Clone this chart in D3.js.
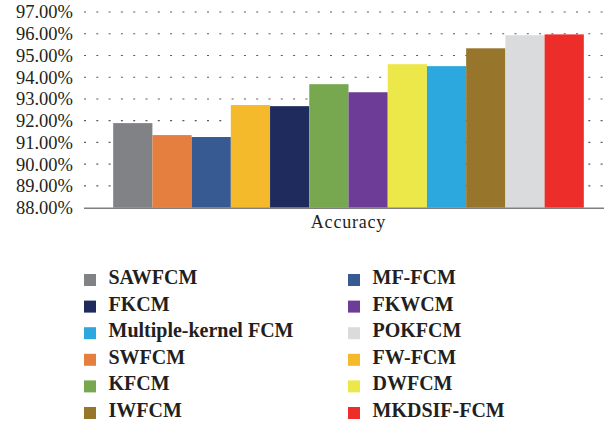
<!DOCTYPE html>
<html>
<head>
<meta charset="utf-8">
<script src="https://cdn.jsdelivr.net/npm/d3@7"></script>
<style>
  html, body { margin: 0; padding: 0; background: #fff; }
  svg { display: block; }
  svg text { font-family: "Liberation Serif", "Times New Roman", Times, "DejaVu Serif", serif; fill: #231f20; }
</style>
</head>
<body>
<svg id="chart" width="604" height="426"></svg>
<script>
// Accuracy of each clustering method (bar order)
const categories = ["Accuracy"];
const methods = ["SAWFCM", "SWFCM", "MF-FCM", "FW-FCM", "FKCM", "KFCM",
                 "FKWCM", "DWFCM", "Multiple-kernel FCM", "IWFCM", "POKFCM", "MKDSIF-FCM"];
const accuracy = [0.9189, 0.9134, 0.9125, 0.9272, 0.9267, 0.9368,
                  0.9331, 0.9460, 0.9451, 0.9533, 0.9593, 0.9597];
const palette = ["#818285", "#e57f3f", "#385a93", "#f4ba2b", "#1f2b5c", "#77a74f",
                 "#6d3c96", "#ede84a", "#2ca8de", "#97752a", "#dadbdd", "#ec2d2a"];
// Legend reading order: left column then right column
const legendLeft = ["SAWFCM", "FKCM", "Multiple-kernel FCM", "SWFCM", "KFCM", "IWFCM"];
const legendRight = ["MF-FCM", "FKWCM", "POKFCM", "FW-FCM", "DWFCM", "MKDSIF-FCM"];
const yTicks = [0.88, 0.89, 0.90, 0.91, 0.92, 0.93, 0.94, 0.95, 0.96, 0.97];

const serif = "'Liberation Serif', 'Times New Roman', Times, 'DejaVu Serif', serif";
const svg = d3.select("#chart");
const plot = { left: 84, right: 613, top: 12, bottom: 207.7 };

const x0 = d3.scaleBand().domain(categories)
  .range([plot.left, plot.right]).paddingOuter(0.062).paddingInner(0);
const x1 = d3.scaleBand().domain(methods).range([0, x0.bandwidth()]).padding(0);
const y = d3.scaleLinear().domain([0.88, 0.97]).range([plot.bottom, plot.top]);
const color = d3.scaleOrdinal().domain(methods).range(palette);

// dotted gridlines
svg.append("g").selectAll("line")
  .data(yTicks.slice(1))
  .join("line")
  .attr("x1", plot.left).attr("x2", plot.right)
  .attr("y1", d => y(d)).attr("y2", d => y(d))
  .attr("stroke", "#5a5a5a")
  .attr("stroke-width", 1.2)
  .attr("stroke-dasharray", "2 10.3");

// y axis labels
const yAxis = d3.axisLeft(y).tickValues(yTicks).tickFormat(d3.format(".2%")).tickSize(0).tickPadding(11);
const yg = svg.append("g").attr("transform", `translate(${plot.left},0)`).call(yAxis);
yg.attr("font-family", serif).attr("font-size", 18.5);
yg.select(".domain").remove();
yg.selectAll("text")
  .style("font-family", serif)
  .attr("fill", "#231f20");

// bars
const group = svg.append("g").selectAll("g")
  .data(categories)
  .join("g")
  .attr("transform", d => `translate(${x0(d)},0)`);

group.selectAll("rect")
  .data(methods.map((m, i) => ({ method: m, value: accuracy[i] })))
  .join("rect")
  .attr("x", d => x1(d.method))
  .attr("width", x1.bandwidth())
  .attr("y", d => y(d.value))
  .attr("height", d => y(0.88) - y(d.value))
  .attr("fill", d => color(d.method));

// category axis
svg.append("line")
  .attr("x1", plot.left).attr("x2", plot.right)
  .attr("y1", plot.bottom + 0.5).attr("y2", plot.bottom + 0.5)
  .attr("stroke", "#7f7f7f").attr("stroke-width", 1.6);

svg.append("g").selectAll("text")
  .data(categories)
  .join("text")
  .attr("x", d => x0(d) + x0.bandwidth() / 2)
  .attr("y", 227.5)
  .attr("text-anchor", "middle")
  .style("font-family", serif)
  .attr("font-size", 18)
  .attr("letter-spacing", 0.8)
  .text(d => d);

// legend
const rowY = d3.scaleLinear().domain([0, 5]).range([280, 413]);
const cols = [{ items: legendLeft, x: 84 }, { items: legendRight, x: 348 }];
cols.forEach(col => {
  const g = svg.append("g");
  const item = g.selectAll("g")
    .data(col.items)
    .join("g")
    .attr("transform", (d, i) => `translate(${col.x},${rowY(i)})`);
  item.append("rect")
    .attr("x", 0).attr("y", -6)
    .attr("width", 12).attr("height", 12)
    .attr("fill", d => color(d));
  item.append("text")
    .attr("x", 24.5).attr("y", 4)
    .style("font-family", serif)
    .attr("font-size", 20)
    .attr("font-weight", "bold")
    .text(d => d);
});
</script>
</body>
</html>
